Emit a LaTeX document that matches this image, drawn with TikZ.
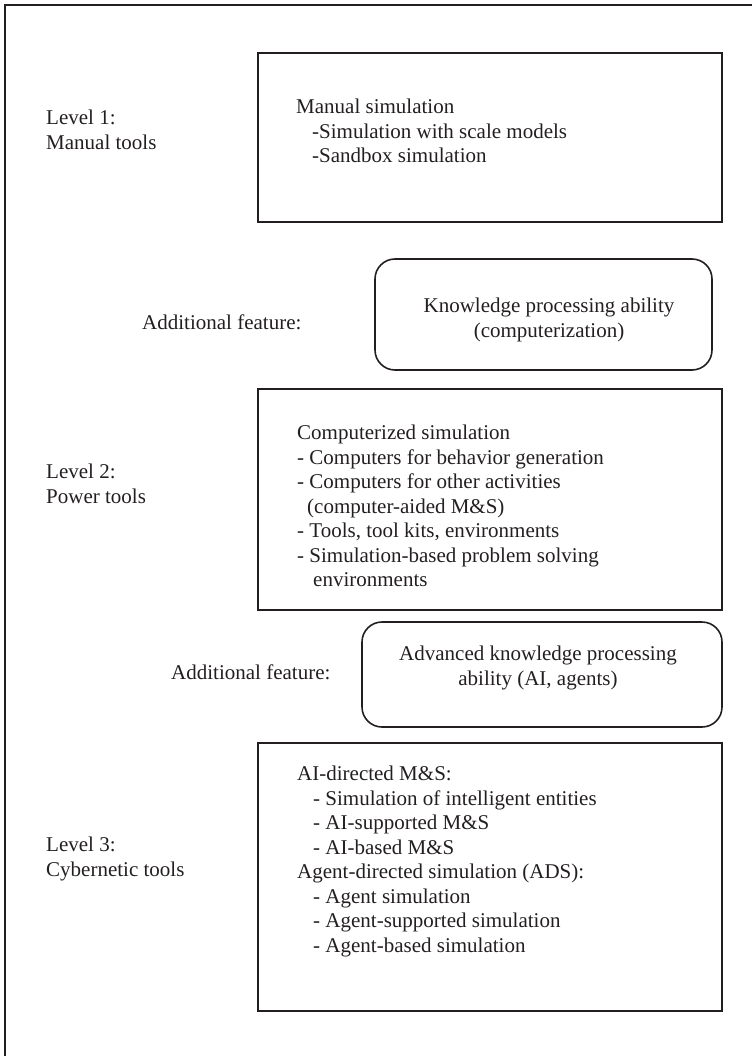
\documentclass[tikz,border=0pt]{standalone}
\usepackage{fontspec}
\setmainfont{Liberation Serif}
\definecolor{ink}{RGB}{35,31,32}
\begin{document}
\begin{tikzpicture}[x=1pt,y=-1pt,
  txt/.style={anchor=north west, inner sep=0pt, align=left, font=\fontsize{21}{24.5}\selectfont, text=ink},
  ctxt/.style={anchor=center, inner sep=0pt, align=center, font=\fontsize{21}{24.5}\selectfont, text=ink},
  box/.style={draw=ink, line width=1.6pt, inner sep=0pt, outer sep=0pt},
  rbox/.style={box, rounded corners=20pt},
  frame/.style={draw=ink, line width=2.2pt}]
\useasboundingbox (0,0) rectangle (752,1056);
\coordinate (fbl) at (5,1056);
\coordinate (ftl) at (5,5);
\coordinate (ftr) at (752,5);
\draw[frame] (fbl) -- (ftl) -- (ftr);

% Level 1
\node[txt] (l1) at (46,110) {Level 1:\\Manual tools};
\node[box, minimum width=464pt, minimum height=169pt] (b1) at (490,137.5) {};
\node[txt] (t1) at (296,99) {Manual simulation\\\hspace*{16pt}-Simulation with scale models\\\hspace*{16pt}-Sandbox simulation};

% Additional feature 1
\node[txt] (af1) at (142,315) {Additional feature:};
\node[rbox, minimum width=337pt, minimum height=111pt] (r1) at (543.5,314.5) {};
\node[ctxt] (tr1) at (549,320) {Knowledge processing ability\\(computerization)};

% Level 2
\node[txt] (l2) at (46,464) {Level 2:\\Power tools};
\node[box, minimum width=464pt, minimum height=221pt] (b2) at (490,499.5) {};
\node[txt] (t2) at (297,425) {Computerized simulation\\- Computers for behavior generation\\- Computers for other activities\\\hspace*{10pt}(computer-aided M\&S)\\- Tools, tool kits, environments\\- Simulation-based problem solving\\\hspace*{16pt}environments};

% Additional feature 2
\node[txt] (af2) at (171,665) {Additional feature:};
\node[rbox, minimum width=360pt, minimum height=105pt] (r2) at (542,674.5) {};
\node[ctxt] (tr2) at (538,668) {Advanced knowledge processing\\ability (AI, agents)};

% Level 3
\node[txt] (l3) at (46,837) {Level 3:\\Cybernetic tools};
\node[box, minimum width=464pt, minimum height=268pt] (b3) at (490,877) {};
\node[txt] (t3) at (297,766) {AI-directed M\&S:\\\hspace*{16pt}- Simulation of intelligent entities\\\hspace*{16pt}- AI-supported M\&S\\\hspace*{16pt}- AI-based M\&S\\Agent-directed simulation (ADS):\\\hspace*{16pt}- Agent simulation\\\hspace*{16pt}- Agent-supported simulation\\\hspace*{16pt}- Agent-based simulation};
\end{tikzpicture}
\end{document}
